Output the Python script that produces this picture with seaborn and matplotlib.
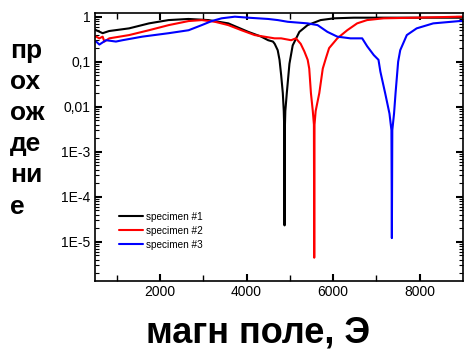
import numpy as np
import pandas as pd
import seaborn as sns
import matplotlib
matplotlib.use('Agg')
from matplotlib import pyplot as plt
from matplotlib.ticker import FixedLocator, LogLocator, NullFormatter

sns.set_style('ticks')
plt.rcParams['font.family'] = ['Liberation Sans', 'DejaVu Sans']
plt.rcParams['text.color'] = 'black'
plt.rcParams['xtick.color'] = 'black'
plt.rcParams['ytick.color'] = 'black'

# field (Oe) and transmission for each specimen
x1 = [500, 530, 680, 830, 1290, 1750, 2200, 2660, 3120, 3580, 4040, 4340, 4500,
      4610, 4650, 4720, 4762, 4800, 4838, 4860, 4872, 4878, 4884, 4896, 4930,
      4991, 5066, 5220, 5410, 5710, 6020, 6480, 7000, 8000, 9000]
y1 = [0.52, 0.5, 0.43, 0.48, 0.55, 0.71, 0.84, 0.89, 0.84, 0.71, 0.46, 0.36, 0.3,
      0.28, 0.25, 0.18, 0.11, 0.05, 0.02, 0.008, 0.003, 2.3e-5, 0.003, 0.008, 0.02,
      0.09, 0.23, 0.46, 0.65, 0.84, 0.92, 0.95, 0.95, 0.95, 0.95]

x2 = [500, 530, 604, 680, 719, 833, 1290, 1748, 2206, 2664, 2968, 3273, 3579,
      3884, 4189, 4647, 4800, 5030, 5140, 5250, 5334, 5412, 5448, 5487, 5530,
      5556, 5563, 5570, 5596, 5680, 5760, 5833, 5906, 6096, 6325, 6553, 6782,
      7165, 7927, 8920, 9000]
y2 = [0.36, 0.36, 0.33, 0.36, 0.28, 0.33, 0.39, 0.5, 0.65, 0.8, 0.84, 0.77, 0.65,
      0.5, 0.39, 0.33, 0.33, 0.3, 0.33, 0.25, 0.17, 0.11, 0.07, 0.02, 0.008,
      0.004, 4.4e-6, 0.004, 0.008, 0.02, 0.07, 0.12, 0.2, 0.33, 0.5, 0.71, 0.84,
      0.92, 0.95, 1.0, 1.0]

x3 = [500, 530, 604, 757, 986, 1138, 1595, 2206, 2664, 2968, 3197, 3426, 3731,
      4037, 4500, 4723, 4952, 5410, 5640, 5867, 6096, 6400, 6670, 6785, 6938,
      7046, 7090, 7200, 7300, 7345, 7355, 7365, 7405, 7440, 7500, 7548, 7700,
      7927, 8310, 8920, 9000]
y3 = [0.28, 0.28, 0.24, 0.3, 0.28, 0.3, 0.36, 0.43, 0.5, 0.65, 0.8, 0.92, 1.0,
      0.95, 0.89, 0.84, 0.77, 0.71, 0.65, 0.46, 0.36, 0.33, 0.33, 0.22, 0.14,
      0.11, 0.06, 0.02, 0.007, 0.003, 1.2e-5, 0.003, 0.007, 0.02, 0.1, 0.18, 0.39,
      0.55, 0.71, 0.8, 0.8]

names = ['specimen #1', 'specimen #2', 'specimen #3']
colors = ['black', 'red', 'blue']

ytick_vals = [1, 0.1, 0.01, 1e-3, 1e-4, 1e-5]
ytick_labels = ['1', '0,1', '0,01', '1E-3', '1E-4', '1E-5']
xtick_vals = [2000, 4000, 6000, 8000]

df = pd.concat([
    pd.DataFrame({'field': x, 'trans': y, 'specimen': n})
    for x, y, n in zip([x1, x2, x3], [y1, y2, y3], names)
])

fig = plt.figure(figsize=(4.65, 3.51), dpi=100)
ax = fig.add_axes([0.204, 0.20, 0.792, 0.764])

sns.lineplot(data=df, x='field', y='trans', hue='specimen', palette=colors,
             sort=False, estimator=None, lw=1.5, ax=ax)

ax.set_yscale('log')
ax.set_xlim(500, 9000)
ax.set_ylim(1.35e-6, 1.23)

ax.set_yticks(ytick_vals)
ax.set_yticklabels(ytick_labels)
ax.yaxis.set_minor_locator(LogLocator(base=10, subs=np.arange(2, 10)))
ax.yaxis.set_minor_formatter(NullFormatter())
ax.set_xticks(xtick_vals)
ax.xaxis.set_minor_locator(FixedLocator([1000, 3000, 5000, 7000]))

ax.tick_params(which='both', direction='in', top=True, right=True,
               labelsize=10, pad=3)
ax.tick_params(which='major', length=5, width=1.5)
ax.tick_params(which='minor', length=3, width=0.8)
ax.tick_params(axis='x', which='minor', length=4, width=1)
for s in ax.spines.values():
    s.set_linewidth(1.2)
    s.set_color('black')

ax.set_xlabel('')
ax.set_ylabel('')

leg = ax.legend(loc='lower left', bbox_to_anchor=(0.065, 0.115), frameon=False,
                fontsize=7.2, handlelength=2.4, handletextpad=0.3,
                labelspacing=0.4, borderpad=0, borderaxespad=0)
for h in leg.get_lines():
    h.set_linewidth(1.5)

fig.text(0.554, 0.0, 'магн поле, Э', ha='center', va='bottom',
         fontsize=26, fontweight='bold')
fig.text(0.022, 0.89, 'пр\nох\nож\nде\nни\nе', ha='left', va='top',
         fontsize=19, fontweight='bold', linespacing=1.38)

fig.savefig('out.png', dpi=100)
